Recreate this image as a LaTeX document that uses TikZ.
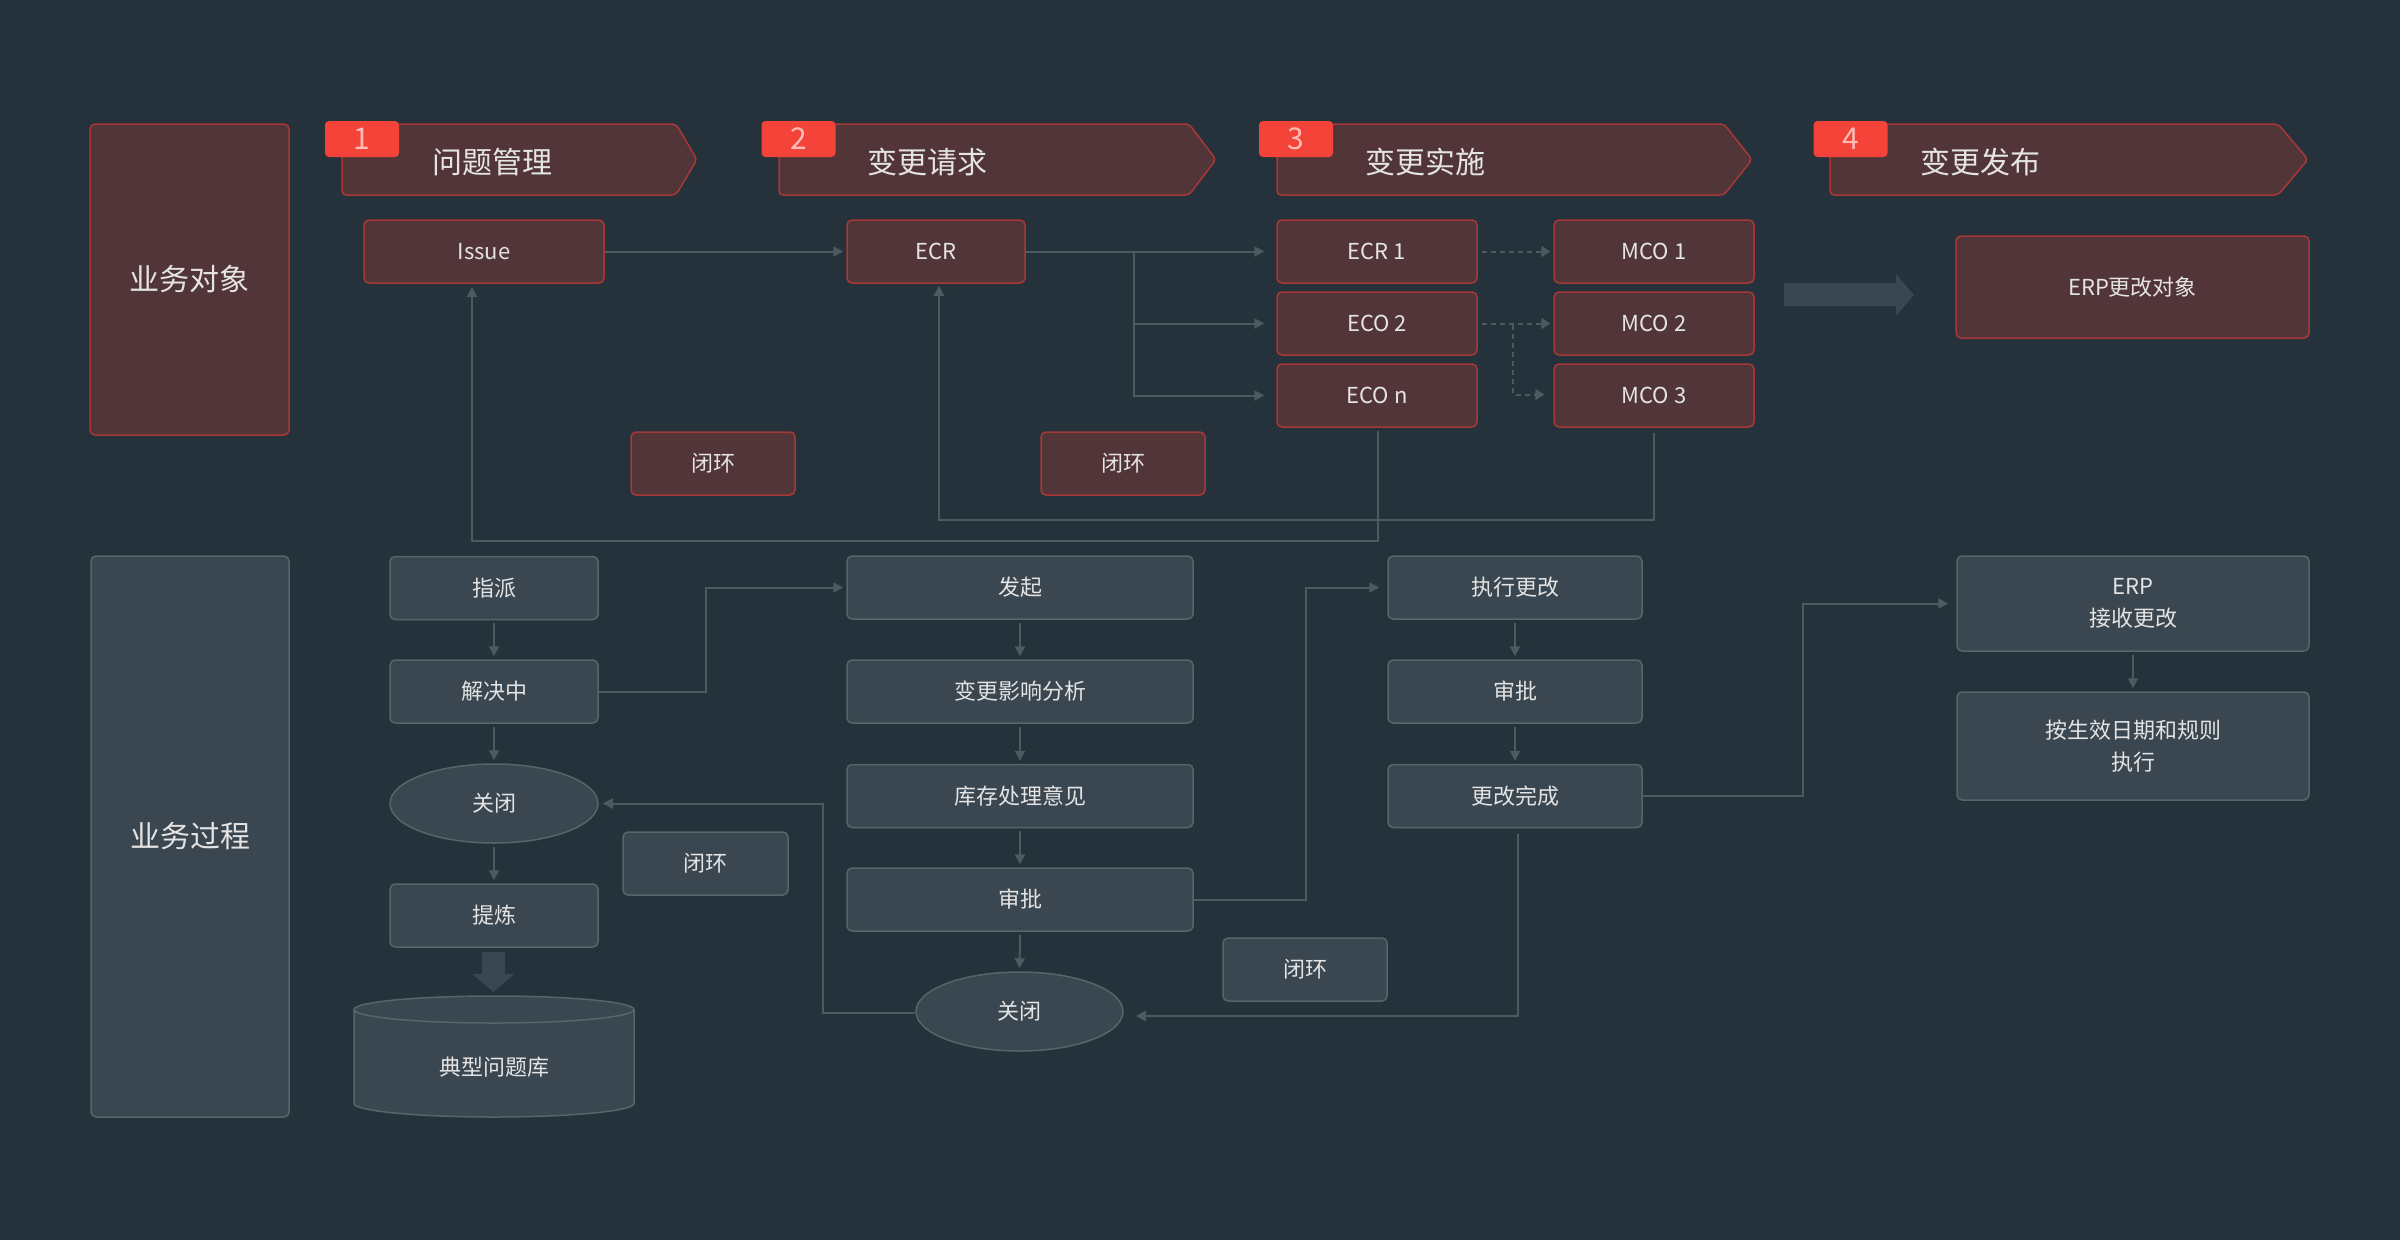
\documentclass[tikz,border=0pt]{standalone}
\usepackage{fontspec}
\setmainfont{Noto Sans CJK SC}
\usetikzlibrary{arrows.meta,shapes.geometric,calc}
\definecolor{bg}{HTML}{26323B}
\definecolor{redfill}{HTML}{523539}
\definecolor{redline}{HTML}{A83838}
\definecolor{badgered}{HTML}{F44338}
\definecolor{badgetxt}{HTML}{FFBDB6}
\definecolor{greyfill}{HTML}{3A4750}
\definecolor{greyline}{HTML}{56646C}
\definecolor{lnc}{HTML}{4C5A61}
\definecolor{txtc}{HTML}{E4E4E4}
\begin{document}
\begin{tikzpicture}[x=1pt,y=-1pt,
  redbox/.style={draw=redline,fill=redfill,line width=1.5pt,rounded corners=5pt,inner sep=0pt,text=txtc,font=\fontsize{22}{32}\selectfont,align=center},
  greybox/.style={draw=greyline,fill=greyfill,line width=1.5pt,rounded corners=5pt,inner sep=0pt,text=txtc,font=\fontsize{22}{32}\selectfont,align=center},
  greyell/.style={ellipse,draw=greyline,fill=greyfill,line width=1.5pt,inner sep=0pt,text=txtc,font=\fontsize{22}{32}\selectfont},
  sidelbl/.style={rounded corners=5pt,inner sep=0pt,line width=1.5pt,text=txtc,font=\fontsize{30}{36}\selectfont},
  banner/.style={draw=redline,fill=redfill,line width=1.5pt,rounded corners=4pt},
  badge/.style={fill=badgered,rounded corners=4pt,inner sep=0pt,minimum width=74pt,minimum height=36pt,text=badgetxt,font=\fontsize{30}{36}\selectfont},
  title/.style={anchor=west,inner sep=0pt,text=txtc,font=\fontsize{30}{36}\selectfont},
  conn/.style={draw=lnc,line width=2pt,-{Triangle[length=10pt,width=10pt]}},
  dconn/.style={draw=lnc,line width=2pt,dash pattern=on 5pt off 4pt,-{Triangle[length=9pt,width=11pt]}},
  fat/.style={fill=greyfill}
]
\fill[white] (0,0) rectangle (2400,1248);
\fill[bg] (0,0) rectangle (2400,1240);
\useasboundingbox (0,0) rectangle (2400,1248);

% side labels
\node[sidelbl,draw=redline,fill=redfill,minimum width=199pt,minimum height=311pt] (objL) at (189.5,279.5) {业务对象};
\node[sidelbl,draw=greyline,fill=greyfill,minimum width=198pt,minimum height=561pt] (procL) at (190,836.5) {业务过程};

% banners
\draw[banner] (342,124) -- (676,124) -- (697,159.5) -- (676,195) -- (342,195) -- cycle;
\draw[banner] (779,124) -- (1189,124) -- (1216,159.5) -- (1189,195) -- (779,195) -- cycle;
\draw[banner] (1277,124) -- (1724,124) -- (1752,159.5) -- (1724,195) -- (1277,195) -- cycle;
\draw[banner] (1830,124) -- (2278,124) -- (2308,159.5) -- (2278,195) -- (1830,195) -- cycle;
\node[badge] (b1) at (362,139) {1};
\node[badge] (b2) at (798.5,139) {2};
\node[badge] (b3) at (1296,139) {3};
\node[badge] (b4) at (1850.5,139) {4};
\node[title] (t1) at (432,162) {问题管理};
\node[title] (t2) at (867,162) {变更请求};
\node[title] (t3) at (1365,162) {变更实施};
\node[title] (t4) at (1920,162) {变更发布};

% object row
\node[redbox,minimum width=240pt,minimum height=63pt] (Issue) at (484,251.5) {Issue};
\node[redbox,minimum width=178pt,minimum height=63pt] (ECR) at (936,251.5) {ECR};
\node[redbox,minimum width=200pt,minimum height=63pt] (ECR1) at (1377,251.5) {ECR 1};
\node[redbox,minimum width=200pt,minimum height=63pt] (ECO2) at (1377,323.5) {ECO 2};
\node[redbox,minimum width=200pt,minimum height=63pt] (ECOn) at (1377,395.5) {ECO n};
\node[redbox,minimum width=200pt,minimum height=63pt] (MCO1) at (1654,251.5) {MCO 1};
\node[redbox,minimum width=200pt,minimum height=63pt] (MCO2) at (1654,323.5) {MCO 2};
\node[redbox,minimum width=200pt,minimum height=63pt] (MCO3) at (1654,395.5) {MCO 3};
\node[redbox,minimum width=164pt,minimum height=63pt] (bhA) at (713,463.5) {闭环};
\node[redbox,minimum width=164pt,minimum height=63pt] (bhB) at (1123,463.5) {闭环};
\node[redbox,minimum width=353pt,minimum height=102pt] (ERPobj) at (2132.5,287) {ERP更改对象};

% process row
\node[greybox,minimum width=208pt,minimum height=63pt] (zp) at (494,588) {指派};
\node[greybox,minimum width=208pt,minimum height=63pt] (jj) at (494,691.5) {解决中};
\node[greyell,minimum width=208pt,minimum height=79pt] (gb1) at (494,803.5) {关闭};
\node[greybox,minimum width=208pt,minimum height=63pt] (tl) at (494,915.5) {提炼};
\node[greybox,minimum width=165pt,minimum height=63pt] (bhC) at (705.5,863.5) {闭环};

\node[greybox,minimum width=346pt,minimum height=63pt] (fq) at (1020,587.5) {发起};
\node[greybox,minimum width=346pt,minimum height=63pt] (yx) at (1020,691.5) {变更影响分析};
\node[greybox,minimum width=346pt,minimum height=63pt] (kc) at (1020,796) {库存处理意见};
\node[greybox,minimum width=346pt,minimum height=63pt] (sp1) at (1020,899.5) {审批};
\node[greyell,minimum width=207pt,minimum height=79pt] (gb2) at (1019.5,1011.5) {关闭};

\node[greybox,minimum width=254pt,minimum height=63pt] (zx) at (1515,587.5) {执行更改};
\node[greybox,minimum width=254pt,minimum height=63pt] (sp2) at (1515,691.5) {审批};
\node[greybox,minimum width=254pt,minimum height=63pt] (wc) at (1515,796) {更改完成};
\node[greybox,minimum width=164pt,minimum height=63pt] (bhD) at (1305,969.5) {闭环};

\node[greybox,minimum width=352pt,minimum height=95pt] (erp1) at (2133,603.5) {ERP\\接收更改};
\node[greybox,minimum width=352pt,minimum height=108pt] (erp2) at (2133,746) {按生效日期和规则\\执行};

% cylinder
\draw[draw=greyline,fill=greyfill,line width=1.5pt] (354,1009.5) -- (354,1103.5) arc[start angle=180,end angle=360,x radius=140pt,y radius=13.5pt] -- (634,1009.5) arc[start angle=0,end angle=180,x radius=140pt,y radius=13.5pt] -- cycle;
\draw[draw=greyline,line width=1.5pt] (354,1009.5) arc[start angle=180,end angle=360,x radius=140pt,y radius=13.5pt];
\node[inner sep=0pt,text=txtc,font=\fontsize{22}{32}\selectfont] (lib) at (494,1067) {典型问题库};

% fat arrows
\fill[fat] (482,952) -- (505,952) -- (505,974) -- (514,974) -- (493.5,992) -- (472,974) -- (482,974) -- cycle;
\fill[fat] (1784,283) -- (1896,283) -- (1896,274) -- (1914,295) -- (1896,316) -- (1896,306) -- (1784,306) -- cycle;

% object connectors
\draw[conn,shorten >=3pt] (Issue.east) -- (ECR.west);
\coordinate (br) at (1134,251.5);
\draw[conn,shorten >=12pt] (ECR.east) -- (ECR1.west);
\draw[conn,shorten >=12pt] (br) |- (ECO2.west);
\draw[conn,shorten >=12pt] (br) |- (ECOn.west);
\draw[dconn] ([xshift=4pt]ECR1.east) -- ([xshift=-3pt]MCO1.west);
\draw[dconn] ([xshift=4pt]ECO2.east) -- ([xshift=-3pt]MCO2.west);
\coordinate (db) at (1513,325);
\draw[dconn] (db) |- ([xshift=-9pt,yshift=1pt]MCO3.west);

\coordinate (l1) at (1654,520);
\draw[conn,shorten >=2pt] ([yshift=-5pt]MCO3.south) -- (l1) -| ([xshift=3pt]ECR.south);
\coordinate (l2) at (1378,541);
\draw[conn,shorten >=3pt] ([xshift=1pt,yshift=-3pt]ECOn.south) -- (l2) -| ([xshift=-12pt]Issue.south);

% process connectors
\foreach \a/\b in {zp/jj,jj/gb1,gb1/tl,fq/yx,yx/kc,kc/sp1,sp1/gb2,zx/sp2,sp2/wc,erp1/erp2}
  \draw[conn,shorten <=3pt,shorten >=3pt] (\a.south) -- (\b.north);

\coordinate (k1) at (706,0);
\draw[conn,shorten >=3pt] (jj.east) -- (jj.east -| k1) |- (fq.west);
\coordinate (k2) at (1306,0);
\draw[conn,shorten >=8pt] (sp1.east) -- (sp1.east -| k2) |- (zx.west);
\coordinate (k3) at (823,0);
\draw[conn,shorten >=4pt] ([yshift=-1.5pt]gb2.west) -- ([yshift=-1.5pt]gb2.west -| k3) |- (gb1.east);
\draw[conn,shorten <=6pt,shorten >=12pt] ([xshift=3pt]wc.south) |- ([yshift=-4.5pt]gb2.east);
\coordinate (k4) at (1803,0);
\draw[conn,shorten >=8pt] (wc.east) -- (wc.east -| k4) |- (erp1.west);
\end{tikzpicture}
\end{document}
